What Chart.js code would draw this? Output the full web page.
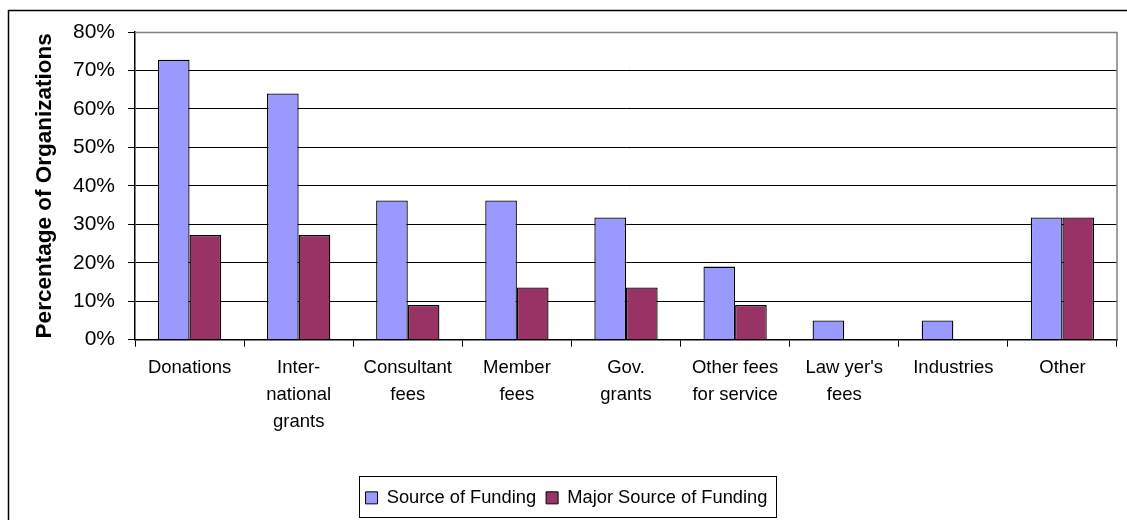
<!DOCTYPE html>
<html>
<head>
<meta charset="utf-8">
<script src="https://cdn.jsdelivr.net/npm/chart.js@4"></script>
<style>
  html, body { margin: 0; padding: 0; background: #fff; }
  #wrap { width: 1127px; height: 520px; position: relative; }
</style>
</head>
<body>
<div id="wrap"><canvas id="bar-chart" width="1127" height="520"></canvas></div>
<script>
// categories (multi-line labels like the original)
var categories = [
  ['Donations'],
  ['Inter-', 'national', 'grants'],
  ['Consultant', 'fees'],
  ['Member', 'fees'],
  ['Gov.', 'grants'],
  ['Other fees', 'for service'],
  ["Law yer's", 'fees'],
  ['Industries'],
  ['Other']
];
var sourceOfFunding = [72.8, 64, 36.2, 36.2, 31.8, 19, 5, 5, 31.8];
var majorSource = [27.2, 27.2, 9, 13.6, 13.6, 9, 0, 0, 31.8];
var yTicks = [0, 10, 20, 30, 40, 50, 60, 70, 80];

Chart.defaults.font.family = '"Liberation Sans", Arial, sans-serif';
Chart.defaults.color = '#000';

// outer frame, plot border, legend box
var framePlugin = {
  id: 'frames',
  beforeDraw: function(chart) {
    var c = chart.ctx;
    c.save();
    c.fillStyle = '#fff';
    c.fillRect(0, 0, chart.width, chart.height);
    c.restore();
  },
  afterDraw: function(chart) {
    var c = chart.ctx, a = chart.chartArea;
    c.save();
    // outer frame
    c.strokeStyle = '#000';
    c.lineWidth = 1.5;
    c.strokeRect(8.5, 10.5, chart.width + 20, chart.height + 20);
    // gray top/right border of plot
    c.strokeStyle = '#808080';
    c.lineWidth = 1.5;
    c.beginPath();
    c.moveTo(a.left, a.top + 0.5);
    c.lineTo(a.right, a.top + 0.5);
    c.lineTo(a.right, a.bottom);
    c.stroke();
    // legend box
    var boxes = chart.legend.legendHitBoxes;
    if (boxes && boxes.length) {
      var last = boxes[boxes.length - 1];
      var l = boxes[0].left, r = last.left + last.width;
      c.strokeStyle = '#000';
      c.lineWidth = 1;
      c.strokeRect(Math.round(l - 7) + 0.5, 476.5, Math.round(r - l + 15), 41);
    }
    c.restore();
  }
};

new Chart(document.getElementById('bar-chart'), {
  type: 'bar',
  data: {
    labels: categories,
    datasets: [
      {
        label: 'Source of Funding',
        backgroundColor: '#9999FF',
        borderColor: '#000',
        borderWidth: 1.3,
        data: sourceOfFunding
      },
      {
        label: 'Major Source of Funding',
        backgroundColor: '#993366',
        borderColor: '#000',
        borderWidth: 1.3,
        data: majorSource
      }
    ]
  },
  options: {
    responsive: false,
    animation: false,
    maintainAspectRatio: false,
    layout: { padding: { left: 16, right: 10, top: 32, bottom: 3 } },
    datasets: { bar: { categoryPercentage: 0.58, barPercentage: 1 } },
    plugins: {
      legend: {
        position: 'bottom',
        labels: {
          font: { size: 18.3 },
          boxWidth: 12,
          boxHeight: 12,
          padding: 10,
          generateLabels: function(chart) {
            return chart.data.datasets.map(function(ds, i) {
              return {
                text: ds.label,
                fillStyle: ds.backgroundColor,
                strokeStyle: '#000',
                lineWidth: 1,
                datasetIndex: i
              };
            });
          }
        }
      },
      tooltip: { enabled: false }
    },
    scales: {
      x: {
        afterFit: function(axis) { axis.height = 139; },
        grid: {
          offset: true,
          drawOnChartArea: false,
          drawTicks: true,
          tickLength: 7,
          color: '#000'
        },
        border: { color: '#000', width: 1.5 },
        ticks: {
          font: { size: 18.5, lineHeight: 1.46 },
          padding: 8,
          maxRotation: 0,
          autoSkip: false
        }
      },
      y: {
        min: 0,
        max: 80,
        afterFit: function(axis) { axis.width = 119; },
        afterBuildTicks: function(axis) {
          axis.ticks = yTicks.map(function(v) { return { value: v }; });
        },
        grid: { color: '#000', lineWidth: 1, tickLength: 7 },
        border: { color: '#000', width: 1.5 },
        ticks: {
          font: { size: 21 },
          padding: 13,
          callback: function(v) { return v + '%'; }
        },
        title: {
          display: true,
          text: 'Percentage of Organizations',
          font: { size: 22.5, weight: 'bold' },
          padding: { top: 15, bottom: 0 }
        }
      }
    }
  },
  plugins: [framePlugin]
});
</script>
</body>
</html>
